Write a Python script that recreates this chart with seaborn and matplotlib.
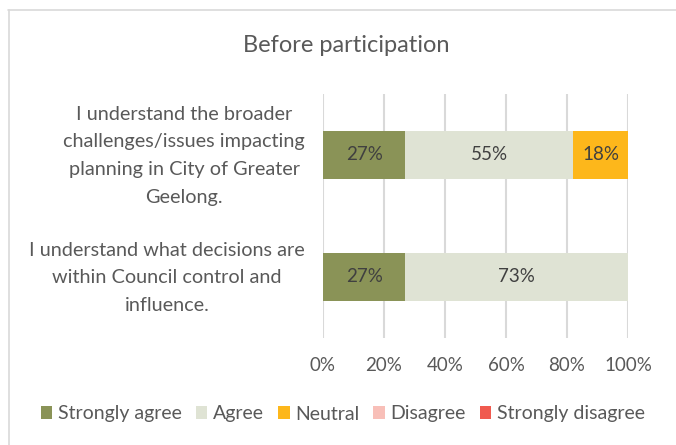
import matplotlib
matplotlib.use("Agg")
import matplotlib.pyplot as plt
import matplotlib.transforms as mtransforms
from matplotlib.lines import Line2D
from matplotlib.patches import Patch
import seaborn as sns
import pandas as pd

questions = [
    "I understand the broader\nchallenges/issues impacting\nplanning in City of Greater\nGeelong.",
    "I understand what decisions are\nwithin Council control and\ninfluence.",
]
categories = ["Strongly agree", "Agree", "Neutral", "Disagree", "Strongly disagree"]
strongly_agree = [27, 27]
agree = [55, 73]
neutral = [18, 0]
disagree = [0, 0]
strongly_disagree = [0, 0]
colors = ["#8A9357", "#DFE3D4", "#FDB71B", "#F8BFB8", "#F05A4F"]
tick_values = [0, 20, 40, 60, 80, 100]
tick_labels = ["0%", "20%", "40%", "60%", "80%", "100%"]

sns.set_theme(style="white")
plt.rcParams["font.family"] = ["Lato", "DejaVu Sans"]
text_color = "#595959"

series = [strongly_agree, agree, neutral, disagree, strongly_disagree]
rows = []
for cat, vals in zip(categories, series):
    for q, v in zip(questions, vals):
        rows.append({"question": q, "category": cat, "value": v})
df = pd.DataFrame(rows)

fig = plt.figure(figsize=(6.76, 4.45), dpi=100)
ax = fig.add_axes([323 / 676, 1 - 338 / 445, 305 / 676, 244 / 445])

bar_h = 48 / 122
left = [0] * len(questions)
for cat, col in zip(categories, colors):
    sub = df[df["category"] == cat]
    vals = sub["value"].tolist()
    ax.barh(range(len(questions)), vals, left=left, height=bar_h,
            color=col, edgecolor="none", zorder=3)
    for i, (l, v) in enumerate(zip(left, vals)):
        if v > 0:
            ax.text(l + v / 2, i, f"{v}%", ha="center", va="center",
                    fontsize=13.5, color="#404040", zorder=4)
    left = [a + b for a, b in zip(left, vals)]

ax.set_xlim(0, 100)
ax.set_ylim(len(questions) - 0.5, -0.5)
ax.set_xticks(tick_values)
ax.set_xticklabels(tick_labels, fontsize=13.5, color=text_color)
ax.set_yticks(range(len(questions)))
ax.set_yticklabels(questions, fontsize=14.3, color=text_color,
                   multialignment="center", linespacing=1.75)
ax.tick_params(axis="both", length=0)
ax.tick_params(axis="x", pad=14)
ax.tick_params(axis="y", pad=13)
# nudge the category labels up slightly
lift = mtransforms.ScaledTranslation(0, 6 / 100, fig.dpi_scale_trans)
for lbl in ax.get_yticklabels():
    lbl.set_transform(lbl.get_transform() + lift)
ax.grid(axis="x", color="#D9D9D9", linewidth=1.5, zorder=0)
ax.grid(axis="y", visible=False)
for s in ax.spines.values():
    s.set_visible(False)

fig.text(346 / 676, 1 - 46 / 445, "Before participation",
         ha="center", va="center", fontsize=17, color=text_color)

handles = [Patch(facecolor=c, edgecolor="none") for c in colors]
fig.legend(handles, categories, loc="center", bbox_to_anchor=(343 / 676, 1 - 414 / 445),
           ncol=5, frameon=False, fontsize=14, handlelength=0.6, handleheight=0.6,
           handletextpad=0.3, columnspacing=0.7, labelcolor=text_color)

# chart frame
fig.add_artist(Line2D([8 / 676, 1], [1 - 9.5 / 445, 1 - 9.5 / 445],
                      transform=fig.transFigure, color="#D9D9D9", linewidth=1.2))
fig.add_artist(Line2D([8.5 / 676, 8.5 / 676], [0, 1 - 9.5 / 445],
                      transform=fig.transFigure, color="#D9D9D9", linewidth=1.2))

fig.savefig("out.png", dpi=100, facecolor="white")
